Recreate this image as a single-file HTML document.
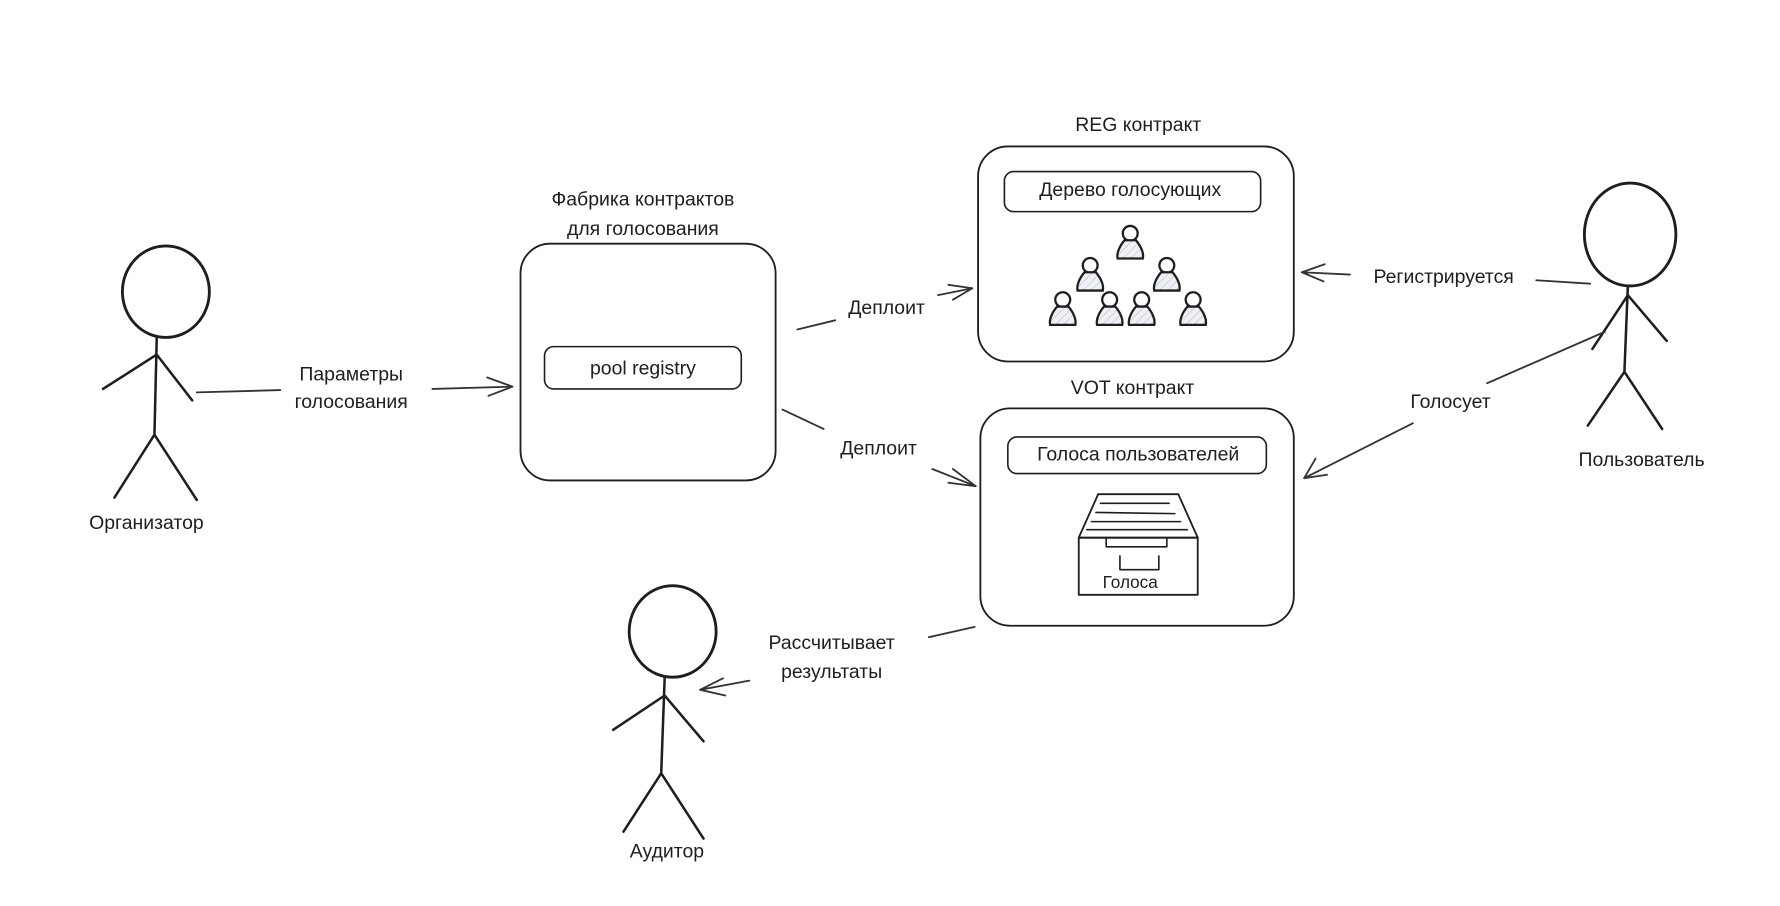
<!DOCTYPE html>
<html><head><meta charset="utf-8"><style>
html,body{margin:0;padding:0;background:#fff;}
svg{display:block;}
text{font-family:"Liberation Sans","DejaVu Sans",sans-serif;fill:#1e1e1e;text-anchor:middle;dominant-baseline:middle;}
</style></head><body>
<svg width="1780" height="906" viewBox="0 0 1556 792" xmlns="http://www.w3.org/2000/svg">
<defs>
<pattern id="hatch" width="5" height="5" patternUnits="userSpaceOnUse" patternTransform="rotate(45)">
<rect width="5" height="5" fill="#eef0f3"/><line x1="0" y1="0" x2="0" y2="5" stroke="#b8c0cc" stroke-width="1"/>
</pattern>
<g id="person">
<circle cx="0" cy="-8" r="6.5" fill="#fff" stroke="#1e1e1e" stroke-width="2"/>
<path d="M-5,-2 C-10,4 -12,10 -11,14 L11,14 C12,10 10,4 5,-2 Z" fill="url(#hatch)" stroke="#1e1e1e" stroke-width="2"/>
</g>
</defs>
<g fill="none" stroke="#1e1e1e" stroke-linecap="round" stroke-linejoin="round">
<!-- Organizer -->
<ellipse cx="145" cy="255" rx="38" ry="40" stroke-width="2.5"/>
<path d="M137,295 L135,380 M90,340 L137,310 L168,350 M135,380 L100,435 M135,380 L172,437" stroke-width="2.2"/>
<!-- Auditor -->
<ellipse cx="588" cy="552" rx="38" ry="40" stroke-width="2.5"/>
<path d="M581,593 L578,676 M536,638 L581,608 L615,648 M578,676 L545,727 M578,676 L615,733" stroke-width="2.2"/>
<!-- User -->
<ellipse cx="1425" cy="205" rx="40" ry="45" stroke-width="2.5"/>
<path d="M1423,250 L1420,325 M1392,305 L1423,258 L1457,298 M1420,325 L1388,372 M1420,325 L1453,375" stroke-width="2.2"/>
<!-- Factory box -->
<rect x="455" y="213" width="223" height="207" rx="26" stroke-width="1.6"/>
<rect x="476" y="303" width="172" height="37" rx="8" stroke-width="1.4"/>
<!-- REG box -->
<rect x="855" y="128" width="276" height="188" rx="26" stroke-width="1.6"/>
<rect x="878" y="150" width="224" height="35" rx="8" stroke-width="1.4"/>
<!-- VOT box -->
<rect x="857" y="357" width="274" height="190" rx="26" stroke-width="1.6"/>
<rect x="881" y="382" width="226" height="32" rx="8" stroke-width="1.4"/>
<!-- drawer -->
<path d="M960,432 L1030,432 L1047,470 L943,470 Z" stroke-width="1.6"/>
<path d="M962,440 L1022,440 M958,448 L1027,449 M954,456 L1032,456 M950,463 L1038,463" stroke-width="1.4"/>
<rect x="943" y="470" width="104" height="50" stroke-width="1.6"/>
<path d="M967,471 L967,478 L1020,478 L1020,471" stroke-width="1.4"/>
<path d="M979,486 L979,498 L1013,498 L1013,486" stroke-width="1.4"/>
<!-- arrows -->
<g stroke-width="1.6" stroke="#333">
<path d="M172,343 L245,341 M378,340 L448,338 M426,330 L448,338 L427,346"/>
<path d="M697,288 L730,280 M820,258 L850,252 M829,249 L850,252 L833,262"/>
<path d="M684,358 L720,375 M815,410 L853,425 M833,410 L853,425 L829,422"/>
<path d="M1390,248 L1343,245 M1180,240 L1138,238 M1158,231 L1138,238 L1157,246"/>
<path d="M1403,290 L1300,335 M1235,370 L1140,418 M1150,401 L1140,418 L1160,415"/>
<path d="M852,548 L812,557 M655,595 L612,603 M632,593 L612,603 L634,608"/>
</g>
</g>
<use href="#person" x="988" y="212"/>
<use href="#person" x="953" y="240"/>
<use href="#person" x="1020" y="240"/>
<use href="#person" x="929" y="270"/>
<use href="#person" x="970" y="270"/>
<use href="#person" x="998" y="270"/>
<use href="#person" x="1043" y="270"/>
<g font-size="17">
<text x="128" y="458">Организатор</text>
<text x="307" y="328">Параметры</text>
<text x="307" y="352">голосования</text>
<text x="562" y="175">Фабрика контрактов</text>
<text x="562" y="201">для голосования</text>
<text x="562" y="323">pool registry</text>
<text x="775" y="270">Деплоит</text>
<text x="768" y="393">Деплоит</text>
<text x="995" y="110">REG контракт</text>
<text x="988" y="167">Дерево голосующих</text>
<text x="990" y="340">VOT контракт</text>
<text x="995" y="398">Голоса пользователей</text>
<text x="1262" y="243">Регистрируется</text>
<text x="1268" y="352">Голосует</text>
<text x="1435" y="403">Пользователь</text>
<text x="727" y="563">Рассчитывает</text>
<text x="727" y="588">результаты</text>
<text x="583" y="745">Аудитор</text>
<text x="988" y="510" font-size="15">Голоса</text>
</g>
</svg>
</body></html>
